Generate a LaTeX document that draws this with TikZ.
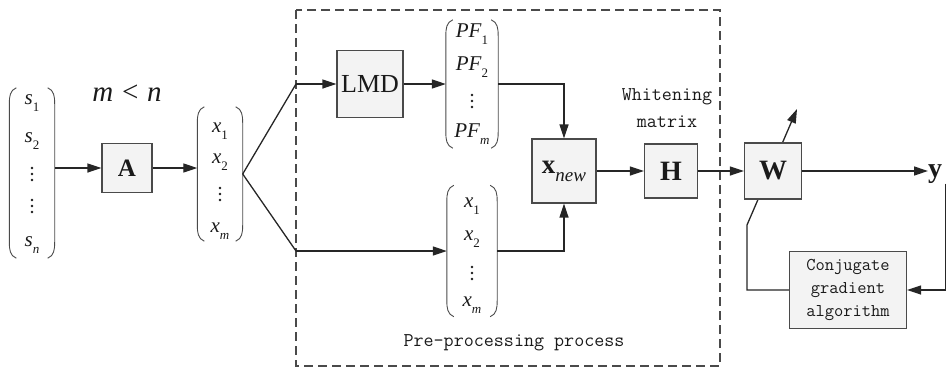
\documentclass[tikz,border=0pt]{standalone}
\usepackage{fontspec}
\setmainfont{Liberation Serif}
\usetikzlibrary{arrows.meta}
\definecolor{ln}{HTML}{262626}
\definecolor{bx}{HTML}{4A4A4A}
\definecolor{boxfill}{HTML}{F3F3F3}
\definecolor{txt}{HTML}{1A1A1A}
\newcommand\isub[2]{\textit{#1}\raisebox{-0.32em}{\fontsize{13}{13}\selectfont #2}}
\newcommand\vecparens[1]{%
  \draw[paren] ([xshift=7pt]#1.north west) to[out=200,in=90] ([yshift=-16pt]#1.north west) -- ([yshift=16pt]#1.south west) to[out=-90,in=160] ([xshift=7pt]#1.south west);
  \draw[paren] ([xshift=-7pt]#1.north east) to[out=-20,in=90] ([yshift=-16pt]#1.north east) -- ([yshift=16pt]#1.south east) to[out=-90,in=20] ([xshift=-7pt]#1.south east);}
\newcommand\vdotsat[2]{%
  \fill[txt] (#1,#2-6) circle (1.3) (#1,#2) circle (1.3) (#1,#2+6) circle (1.3);}
\begin{document}
\begin{tikzpicture}[x=1pt,y=-1pt,
  box/.style={draw=bx, fill=boxfill, line width=1.1pt, inner sep=0pt, text=txt},
  conn/.style={draw=ln, line width=1.3pt},
  arr/.style={conn, -{Triangle[length=14pt,width=9pt]}},
  vec/.style={inner sep=0pt, draw=none},
  paren/.style={draw=bx, line width=0.9pt},
  item/.style={inner sep=0pt, text=txt, font=\fontsize{21}{21}\selectfont},
  mono/.style={text=txt, inner sep=0pt, align=center},
  dashbox/.style={draw=bx, line width=1.3pt, dash pattern=on 9pt off 5pt}]
\useasboundingbox (0,0) rectangle (947,370);

% pre-processing frame
\draw[dashbox] (296,10) rectangle (720,366);
\node[mono, font=\ttfamily\fontsize{19.5}{19.5}\selectfont] (pp) at (514,343) {Pre-processing process};

% source vector s
\node[vec, minimum width=45, minimum height=170] (sv) at (32,173) {};
\vecparens{sv}
\node[item] (s1) at (32,103) {\isub{s}{1}};
\node[item] (s2) at (32,141) {\isub{s}{2}};
\vdotsat{32}{174}
\vdotsat{32}{206}
\node[item] (sn) at (32,245) {\isub{s}{\textit{n}}};

% m < n
\node[inner sep=0pt, text=txt, font=\fontsize{29}{29}\selectfont] (mn) at (127,93) {\textit{m}\hspace{0.3em}<\hspace{0.3em}\textit{n}};

% mixing matrix A
\node[box, minimum width=50, minimum height=49, font=\bfseries\fontsize{25}{25}\selectfont] (A) at (127,168) {A};

% observed vector x
\node[vec, minimum width=45, minimum height=134] (xv) at (220,174) {};
\vecparens{xv}
\node[item] (x1) at (220,131) {\isub{x}{1}};
\node[item] (x2) at (220,162) {\isub{x}{2}};
\vdotsat{220}{194}
\node[item] (xm) at (220,231) {\isub{x}{\textit{m}}};

\draw[arr] (sv.east |- A.west) -- (A.west);
\draw[arr] (A.east) -- (A.east -| xv.west);

% branch
\coordinate (tU) at (296,84);
\coordinate (tD) at (296,251);
\draw[conn] (xv.east) -- (tU);
\draw[conn] (xv.east) -- (tD);

% LMD
\node[box, minimum width=66, minimum height=67, font=\fontsize{26}{26}\selectfont] (LMD) at (370,84) {LMD};
\draw[arr] (tU) -- (LMD.west);

% PF vector
\node[vec, minimum width=52, minimum height=128] (pf) at (472,84) {};
\vecparens{pf}
\node[item] (pf1) at (472,34) {\isub{PF}{1}};
\node[item] (pf2) at (472,67) {\isub{PF}{2}};
\vdotsat{472}{101}
\node[item] (pfm) at (472,134) {\isub{PF}{\textit{m}}};
\draw[arr] (LMD.east) -- (pf.west);

% lower x vector
\node[vec, minimum width=50, minimum height=131] (xw) at (472,251) {};
\vecparens{xw}
\node[item] (y1) at (472,206) {\isub{x}{1}};
\node[item] (y2) at (472,239) {\isub{x}{2}};
\vdotsat{472}{273}
\node[item] (ym) at (472,305) {\isub{x}{\textit{m}}};
\draw[arr] (tD) -- (xw.west);

% x_new
\node[box, minimum width=64, minimum height=64, font=\fontsize{27}{27}\selectfont] (xnew) at (564,171) {\textbf{x}\raisebox{-0.3em}{\itshape\fontsize{19}{19}\selectfont new}};
\draw[arr] (pf.east) -| (xnew.north);
\draw[arr] (xw.east) -| (xnew.south);

% whitening
\node[mono, font=\ttfamily\fontsize{19.5}{27}\selectfont] (wm) at (667,108) {Whitening\\matrix};
\node[box, minimum width=53, minimum height=54, font=\bfseries\fontsize{28}{28}\selectfont] (H) at (671,171) {H};
\draw[arr] (xnew.east) -- (H.west);

% output y
\node[inner sep=0pt, anchor=west, text=txt, font=\bfseries\fontsize{28}{28}\selectfont] (y) at (928,174) {y};

% conjugate gradient
\node[box, minimum width=117, minimum height=77, font=\ttfamily\fontsize{18}{23}\selectfont, align=center] (cg) at (848,290) {Conjugate\\gradient\\algorithm};
\draw[arr] ([xshift=10pt]y.south) |- (cg.east);

% feedback through W
\coordinate (fb) at (747,225);
\coordinate (wtip) at (797,109);
\draw[arr] (cg.west) -| (fb) -- (wtip);

% W
\node[box, minimum width=57, minimum height=56, font=\bfseries\fontsize{28}{28}\selectfont] (W) at (773,171) {W};
\draw[arr] (H.east) -- (W.west);
\draw[arr] (W.east) -- (W.east -| y.west);
\end{tikzpicture}
\end{document}
